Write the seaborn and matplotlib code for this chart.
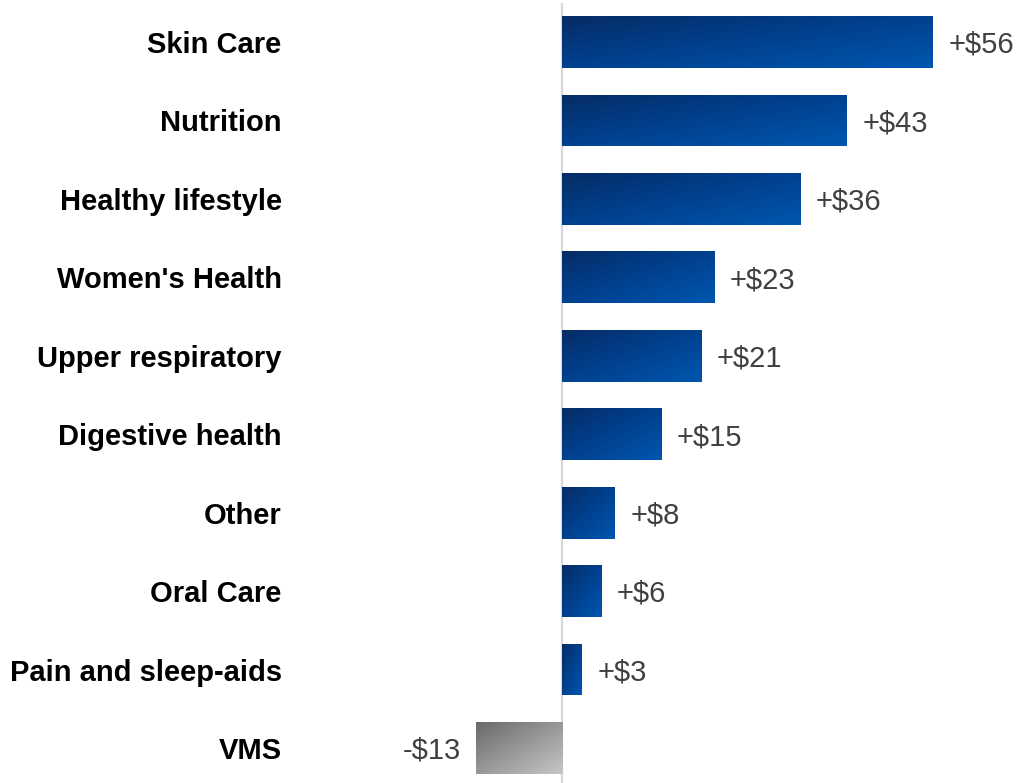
import numpy as np
import pandas as pd
import matplotlib
matplotlib.use("Agg")
import matplotlib.pyplot as plt
import seaborn as sns
from matplotlib.colors import LinearSegmentedColormap

# Change in spend per category
categories = ["Skin Care", "Nutrition", "Healthy lifestyle", "Women's Health",
              "Upper respiratory", "Digestive health", "Other", "Oral Care",
              "Pain and sleep-aids", "VMS"]
values = [56, 43, 36, 23, 21, 15, 8, 6, 3, -13]
value_labels = ["+$56", "+$43", "+$36", "+$23", "+$21", "+$15", "+$8", "+$6", "+$3", "-$13"]

sns.set_theme(style="white")
plt.rcParams["font.family"] = ["Liberation Sans", "DejaVu Sans"]

fig = plt.figure(figsize=(10.18, 7.83), dpi=100)
ax = fig.add_axes([290 / 1018, 0, 728 / 1018, 780 / 783])

df = pd.DataFrame({"category": categories, "value": values})
sns.barplot(data=df, x="value", y="category", orient="h", width=0.66,
            color="#00479a", saturation=1, ax=ax)

blue_cmap = LinearSegmentedColormap.from_list("blue", ["#062c66", "#00418f", "#0056b0"])
gray_cmap = LinearSegmentedColormap.from_list("gray", ["#6a6a6a", "#c6c6c6"])

# Diagonal gradient (top-left -> bottom-right) clipped to each bar
u = np.linspace(0, 1, 200)
v = np.linspace(0, 1, 60)
grad = (u[None, :] + v[:, None]) / 2.0

for patch, val in zip(ax.patches, values):
    x0 = min(patch.get_x(), patch.get_x() + patch.get_width())
    x1 = max(patch.get_x(), patch.get_x() + patch.get_width())
    y0 = patch.get_y()
    y1 = patch.get_y() + patch.get_height()
    cmap = blue_cmap if val >= 0 else gray_cmap
    im = ax.imshow(grad, cmap=cmap, extent=(x0, x1, y1, y0), origin="upper",
                   aspect="auto", interpolation="bicubic", zorder=3)
    im.set_clip_path(patch)

# Value labels beside each bar
for i, (val, lab) in enumerate(zip(values, value_labels)):
    off = 11 if val >= 0 else -11
    ax.annotate(lab, xy=(val, i), xytext=(off, -2), textcoords="offset points",
                ha="left" if val >= 0 else "right", va="center",
                fontsize=21, color="#404040")

ax.axvline(0, color="#d9d9d9", lw=1.6, zorder=1)

ax.set_xlim(-41.06, 68.83)
ax.set_ylim(9.446, -0.497)
ax.set_xlabel("")
ax.set_ylabel("")
ax.set_xticks([])
for s in ax.spines.values():
    s.set_visible(False)
ax.tick_params(axis="y", length=0, pad=6)
for t in ax.get_yticklabels():
    t.set_fontsize(21)
    t.set_fontweight("bold")
    t.set_color("black")

fig.savefig("out.png", dpi=100)
